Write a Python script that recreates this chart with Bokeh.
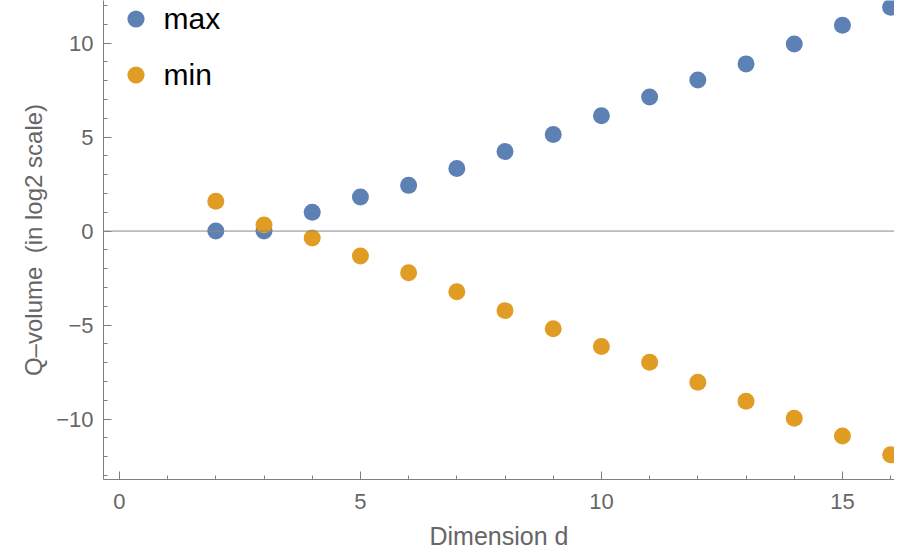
from bokeh.plotting import figure
from bokeh.models import (Range1d, SingleIntervalTicker, CustomJSTickFormatter,
                          Span, Legend, LegendItem)
from bokeh.embed import file_html
from bokeh.resources import INLINE

dims = [2, 3, 4, 5, 6, 7, 8, 9, 10, 11, 12, 13, 14, 15, 16]
q_max = [0.0, 0.0, 1.0, 1.81, 2.43, 3.33, 4.23, 5.13, 6.13, 7.13, 8.03, 8.89, 9.95, 10.95, 11.9]
q_min = [1.59, 0.32, -0.37, -1.32, -2.22, -3.23, -4.23, -5.19, -6.14, -6.98, -8.04, -9.05, -9.95, -10.9, -11.9]

BLUE = "#5E81B5"
ORANGE = "#E19C24"
FONT = "Liberation Sans"
TXT = "#666666"
LINE = "#7f7f7f"

p = figure(width=894, height=552, output_backend="svg", toolbar_location=None,
           x_range=Range1d(-0.33, 16.08), y_range=Range1d(-13.21, 12.26),
           min_border_left=103, min_border_right=0, min_border_top=0, min_border_bottom=70)
p.outline_line_color = None
p.xgrid.visible = False
p.ygrid.visible = False

fmt = CustomJSTickFormatter(code="return tick < 0 ? '\\u2212' + Math.abs(tick) : String(tick);")
for ax, tk in ((p.xaxis[0], SingleIntervalTicker(interval=5, num_minor_ticks=5)),
               (p.yaxis[0], SingleIntervalTicker(interval=5, num_minor_ticks=5))):
    ax.ticker = tk
    ax.formatter = fmt
    ax.axis_line_color = LINE
    ax.major_tick_line_color = LINE
    ax.minor_tick_line_color = LINE
    ax.major_tick_in = 8
    ax.major_tick_out = 0
    ax.minor_tick_in = 4
    ax.minor_tick_out = 0
    ax.major_label_text_font = FONT
    ax.major_label_text_font_size = "22px"
    ax.major_label_text_color = TXT
    ax.axis_label_text_font = FONT
    ax.axis_label_text_color = TXT
    ax.axis_label_text_font_style = "normal"

p.xaxis.axis_label = "Dimension d"
p.xaxis.axis_label_text_font_size = "25px"
p.xaxis.major_label_standoff = 14
p.xaxis.axis_label_standoff = 10
p.yaxis.axis_label = "Q\u2013volume \u00a0(in log2 scale)"
p.yaxis.axis_label_text_font_size = "24px"
p.yaxis.major_label_standoff = 10
p.yaxis.axis_label_standoff = 6

p.add_layout(Span(location=0, dimension="width", line_color="#888888", line_width=1))

r_max = p.scatter(dims, q_max, size=17, fill_color=BLUE, line_color=None)
r_min = p.scatter(dims, q_min, size=17, fill_color=ORANGE, line_color=None)

legend = Legend(items=[LegendItem(label="max", renderers=[r_max]),
                       LegendItem(label="min", renderers=[r_min])],
                location=(10.5, 383), orientation="vertical",
                glyph_width=43, glyph_height=43, label_height=43, spacing=13,
                label_standoff=7, padding=0, margin=0,
                border_line_color=None, background_fill_alpha=0,
                label_text_font=FONT, label_text_font_size="30px",
                label_text_color="#000000")
p.add_layout(legend)

open("out.html", "w").write(file_html(p, INLINE))
